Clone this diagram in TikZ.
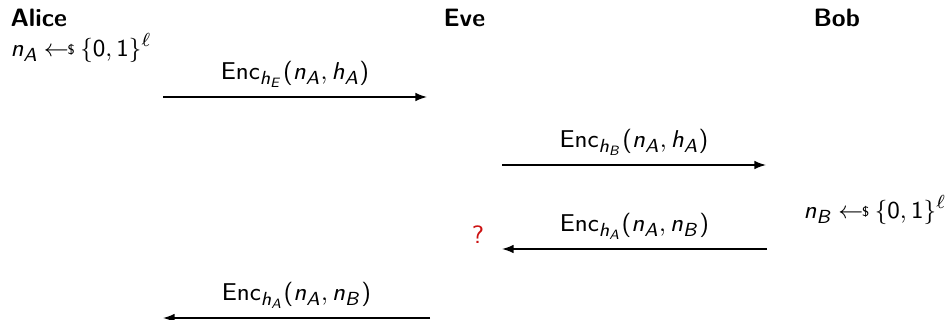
\documentclass[tikz,border=0pt]{standalone}
\usepackage{amsmath,amssymb}
\usepackage{tikz}
\usetikzlibrary{arrows.meta,positioning,calc}
\definecolor{qred}{HTML}{CC1111}
% sans math letters and digits
\SetSymbolFont{operators}{normal}{OT1}{cmss}{m}{n}
\DeclareSymbolFont{sfslant}{OT1}{cmss}{m}{sl}
\DeclareMathSymbol{n}{\mathalpha}{sfslant}{`n}
\DeclareMathSymbol{h}{\mathalpha}{sfslant}{`h}
\DeclareMathSymbol{A}{\mathalpha}{sfslant}{`A}
\DeclareMathSymbol{B}{\mathalpha}{sfslant}{`B}
\DeclareMathSymbol{E}{\mathalpha}{sfslant}{`E}
\newcommand{\getsr}{{\:{\leftarrow{\hspace*{-3pt}\raisebox{.75pt}{$\scriptscriptstyle\$$}}}\:}}
\newcommand{\Enc}{\mathsf{Enc}}

\begin{document}
\sffamily
\begin{tikzpicture}[
  x=0.013cm, y=-0.013cm,
  every node/.style={font=\sffamily\fontsize{9.3}{11}\selectfont},
  party/.style={anchor=base west, font=\sffamily\bfseries\fontsize{9.3}{11}\selectfont, inner sep=0pt},
  msg/.style={-{Latex[length=1.5mm,width=1.1mm]}, line width=0.5pt},
  lbl/.style={above=0pt},
]
\useasboundingbox (0,0) rectangle (948,320);
\node[party] (alice) at (10, 27)  {Alice};
\node[party] (eve)   at (443, 27) {Eve};
\node[party] (bob)   at (813, 27) {Bob};
\node[anchor=west, inner sep=0pt] (na) at (10, 48)  {$n_A \getsr \{0,1\}^\ell$};
\node[anchor=east, inner sep=0pt] (nb) at (947, 210) {$n_B \getsr \{0,1\}^\ell$};
\node[text=qred, inner sep=0pt] (q) at (478, 235) {?};
% message ends
\coordinate (a1) at (163, 97);  \coordinate (e1) at (427, 97);
\coordinate (e2) at (502, 165); \coordinate (b2) at (766, 165);
\coordinate (b3) at (767, 249); \coordinate (e3) at (502, 249);
\coordinate (e4) at (430, 318); \coordinate (a4) at (163, 318);
\draw[msg] (a1) -- node[lbl]{$\Enc_{h_E}(n_A, h_A)$} (e1);
\draw[msg] (e2) -- node[lbl]{$\Enc_{h_B}(n_A, h_A)$} (b2);
\draw[msg] (b3) -- node[lbl]{$\Enc_{h_A}(n_A, n_B)$} (e3);
\draw[msg] (e4) -- node[lbl]{$\Enc_{h_A}(n_A, n_B)$} (a4);
\end{tikzpicture}
\end{document}
